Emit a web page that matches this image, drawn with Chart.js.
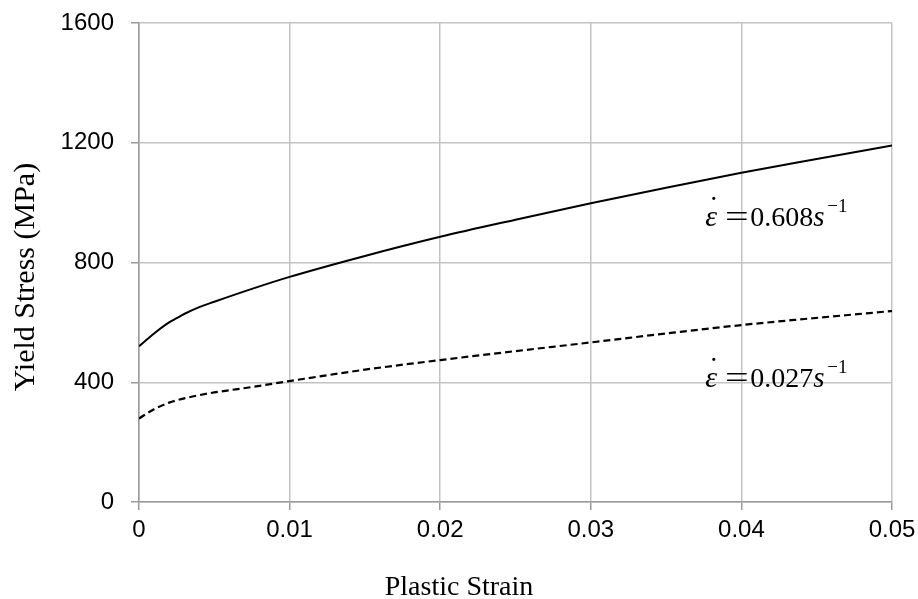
<!DOCTYPE html>
<html>
<head>
<meta charset="utf-8">
<script src="https://cdn.jsdelivr.net/npm/chart.js@4/dist/chart.umd.min.js"></script>
<style>
  html, body { margin: 0; padding: 0; background: #ffffff; }
  #wrap { width: 918px; height: 599px; position: relative; }
</style>
</head>
<body>
<div id="wrap"><canvas id="c" width="918" height="599"></canvas></div>
<script>
// ---- data ----
const strainHigh = [0, 0.001, 0.002, 0.0025, 0.003, 0.004, 0.005, 0.0075, 0.01, 0.015, 0.02, 0.025, 0.03, 0.035, 0.04, 0.045, 0.05];
const stressHigh = [520, 563, 600, 614, 628, 651, 669, 712, 752, 822, 886, 943, 998, 1050, 1100, 1146, 1191];
const strainLow = [0, 0.001, 0.002, 0.003, 0.004, 0.005, 0.0075, 0.01, 0.015, 0.02, 0.025, 0.03, 0.035, 0.04, 0.045, 0.05];
const stressLow = [279, 310, 332, 346, 357, 366, 384, 404, 442, 474, 504, 533, 563, 591, 615, 638];
const xTickLabels = ['0', '0.01', '0.02', '0.03', '0.04', '0.05'];
const yTickLabels = ['0', '400', '800', '1200', '1600'];
const xTitle = 'Plastic Strain';
const yTitle = 'Yield Stress (MPa)';
const rateLabels = ['0.608', '0.027'];
const rateLabelX = [0.0376, 0.0376];
const rateLabelY = [922, 384];

function pts(xs, ys) { return xs.map((x, i) => ({ x: x, y: ys[i] })); }

const titlesPlugin = {
  id: 'titles',
  afterDraw(chart) {
    const ctx = chart.ctx;
    ctx.save();
    ctx.fillStyle = '#000';
    ctx.textAlign = 'center';
    ctx.textBaseline = 'alphabetic';
    ctx.font = '28px "Liberation Serif", "Times New Roman", serif';
    ctx.fillText(xTitle, chart.width / 2, 595);
    ctx.font = '30px "Liberation Serif", "Times New Roman", serif';
    ctx.translate(34, 277);
    ctx.rotate(-Math.PI / 2);
    ctx.fillText(yTitle, 0, 0);
    ctx.restore();

    // strain-rate annotations
    const xs = chart.scales.x, ys = chart.scales.y;
    for (let i = 0; i < rateLabels.length; i++) {
      const ax = xs.getPixelForValue(rateLabelX[i]);
      const by = ys.getPixelForValue(rateLabelY[i]);
      ctx.save();
      ctx.fillStyle = '#000';
      ctx.textBaseline = 'alphabetic';
      ctx.textAlign = 'left';
      ctx.font = 'italic 30px "Liberation Serif", "Times New Roman", serif';
      ctx.fillText('\u03B5', ax, by);
      ctx.textAlign = 'center';
      ctx.font = '30px "Liberation Serif", "Times New Roman", serif';
      ctx.fillText('\u02D9', ax + 8.5, by - 9);
      ctx.font = '28px "Liberation Serif", "Times New Roman", serif';
      ctx.save();
      ctx.translate(ax + 31.5, by + 1);
      ctx.scale(1.5, 1.15);
      ctx.fillText('=', 0, 0);
      ctx.restore();
      ctx.textAlign = 'left';
      ctx.fillText(rateLabels[i], ax + 45, by);
      ctx.font = 'italic 29px "Liberation Serif", "Times New Roman", serif';
      ctx.fillText('s', ax + 108, by);
      ctx.font = '19px "Liberation Serif", "Times New Roman", serif';
      ctx.fillText('\u22121', ax + 122, by - 14);
      ctx.restore();
    }
  }
};

const gridColor = '#c3c3c3';
const axisColor = '#9a9a9a';
const tickFont = { family: '"Liberation Sans", Arial, sans-serif', size: 24 };

new Chart(document.getElementById('c'), {
  type: 'scatter',
  data: {
    datasets: [
      {
        data: pts(strainHigh, stressHigh),
        showLine: true,
        borderColor: '#000',
        borderWidth: 2,
        pointRadius: 0,
        cubicInterpolationMode: 'monotone',
        fill: false
      },
      {
        data: pts(strainLow, stressLow),
        showLine: true,
        borderColor: '#000',
        borderWidth: 2.2,
        borderDash: [7, 4],
        pointRadius: 0,
        cubicInterpolationMode: 'monotone',
        fill: false
      }
    ]
  },
  options: {
    responsive: false,
    animation: false,
    devicePixelRatio: 1,
    layout: { padding: { top: 23, right: 26, left: 0, bottom: 0 } },
    plugins: { legend: { display: false }, tooltip: { enabled: false } },
    scales: {
      x: {
        type: 'linear',
        min: 0, max: 0.05,
        afterFit(s) { s.height = 97; s.paddingLeft = 0; s.paddingRight = 0; },
        afterBuildTicks(s) { s.ticks = xTickLabels.map(v => ({ value: parseFloat(v) })); },
        ticks: {
          callback: (v, i) => xTickLabels[i],
          color: '#000',
          font: tickFont,
          padding: 6,
          maxRotation: 0,
          autoSkip: false
        },
        grid: { color: gridColor, lineWidth: 1.5, tickLength: 8, tickColor: axisColor },
        border: { color: axisColor, width: 1.5 }
      },
      y: {
        type: 'linear',
        min: 0, max: 1600,
        afterFit(s) { s.width = 139; s.paddingTop = 0; s.paddingBottom = 0; },
        afterBuildTicks(s) { s.ticks = yTickLabels.map(v => ({ value: parseFloat(v) })); },
        ticks: {
          callback: (v, i) => yTickLabels[i],
          color: '#000',
          font: tickFont,
          padding: 17
        },
        grid: { color: gridColor, lineWidth: 1.5, tickLength: 8, tickColor: axisColor },
        border: { color: axisColor, width: 1.5 }
      }
    }
  },
  plugins: [titlesPlugin]
});
</script>
</body>
</html>
